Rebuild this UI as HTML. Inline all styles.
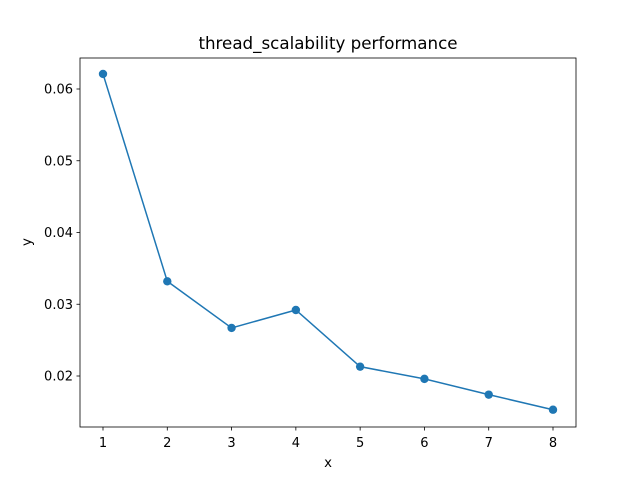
<!DOCTYPE html>
<html><head><meta charset="utf-8"><style>
body{margin:0;background:#fff;font-family:"DejaVu Sans","Liberation Sans",sans-serif;}
svg text{font-family:"DejaVu Sans","Liberation Sans",sans-serif;fill:#000;}
</style></head><body>
<svg id="chart" width="640" height="480" xmlns="http://www.w3.org/2000/svg">
<rect x="0" y="0" width="640" height="480" fill="#fff"/>
<text x="328" y="49" font-size="16.7" text-anchor="middle">thread_scalability performance</text>
<text x="328" y="467" font-size="13.3" text-anchor="middle">x</text>
<text x="31" y="242" font-size="13.3" text-anchor="middle" transform="rotate(-90 31 242)">y</text>
<g id="ticks"></g>
<g id="series"></g>
<rect x="80" y="58" width="496" height="369" fill="none" stroke="#000" stroke-width="0.8"/>
</svg>
<script>
const categories=[1,2,3,4,5,6,7,8];
const values=[0.0621,0.0332,0.0267,0.0292,0.0213,0.0196,0.0174,0.0153];
const xTicks=[1,2,3,4,5,6,7,8];
const yTicks=[0.02,0.03,0.04,0.05,0.06];
const yTickLabels=["0.02","0.03","0.04","0.05","0.06"];
const NS="http://www.w3.org/2000/svg";
function xs(v){return 103+(v-1)*(553-103)/7;}
function ys(v){return 376-(v-0.02)*(376-89)/0.04;}
const tg=document.getElementById('ticks');
function mk(tag,attrs,parent){const e=document.createElementNS(NS,tag);for(const k in attrs)e.setAttribute(k,attrs[k]);parent.appendChild(e);return e;}
xTicks.forEach(t=>{
  const x=xs(t);
  const l=mk('line',{x1:x,x2:x,y1:427,y2:430.5,stroke:'#000','stroke-width':0.8},tg);
  
  
  const tx=mk('text',{x:x,y:447,'font-size':13,'text-anchor':'middle'},tg);
  tx.textContent=t;
  
  
});
yTicks.forEach((t,i)=>{
  const y=ys(t);
  const l=mk('line',{x1:76.5,x2:80,y1:y,y2:y,stroke:'#000','stroke-width':0.8},tg);
  
  
  const tx=mk('text',{x:73,y:y+4.5,'font-size':13,'text-anchor':'end'},tg);
  tx.textContent=yTickLabels[i];
  
  
});
const sg=document.getElementById('series');
const pts=categories.map((c,i)=>xs(c)+','+ys(values[i])).join(' ');
const pl=mk('polyline',{points:pts,fill:'none',stroke:'#1f77b4','stroke-width':1.5},sg);


categories.forEach((c,i)=>{
  const m=mk('circle',{cx:xs(c),cy:ys(values[i]),r:4.2,fill:'#1f77b4'},sg);
  
  
});
</script>
</body></html>
